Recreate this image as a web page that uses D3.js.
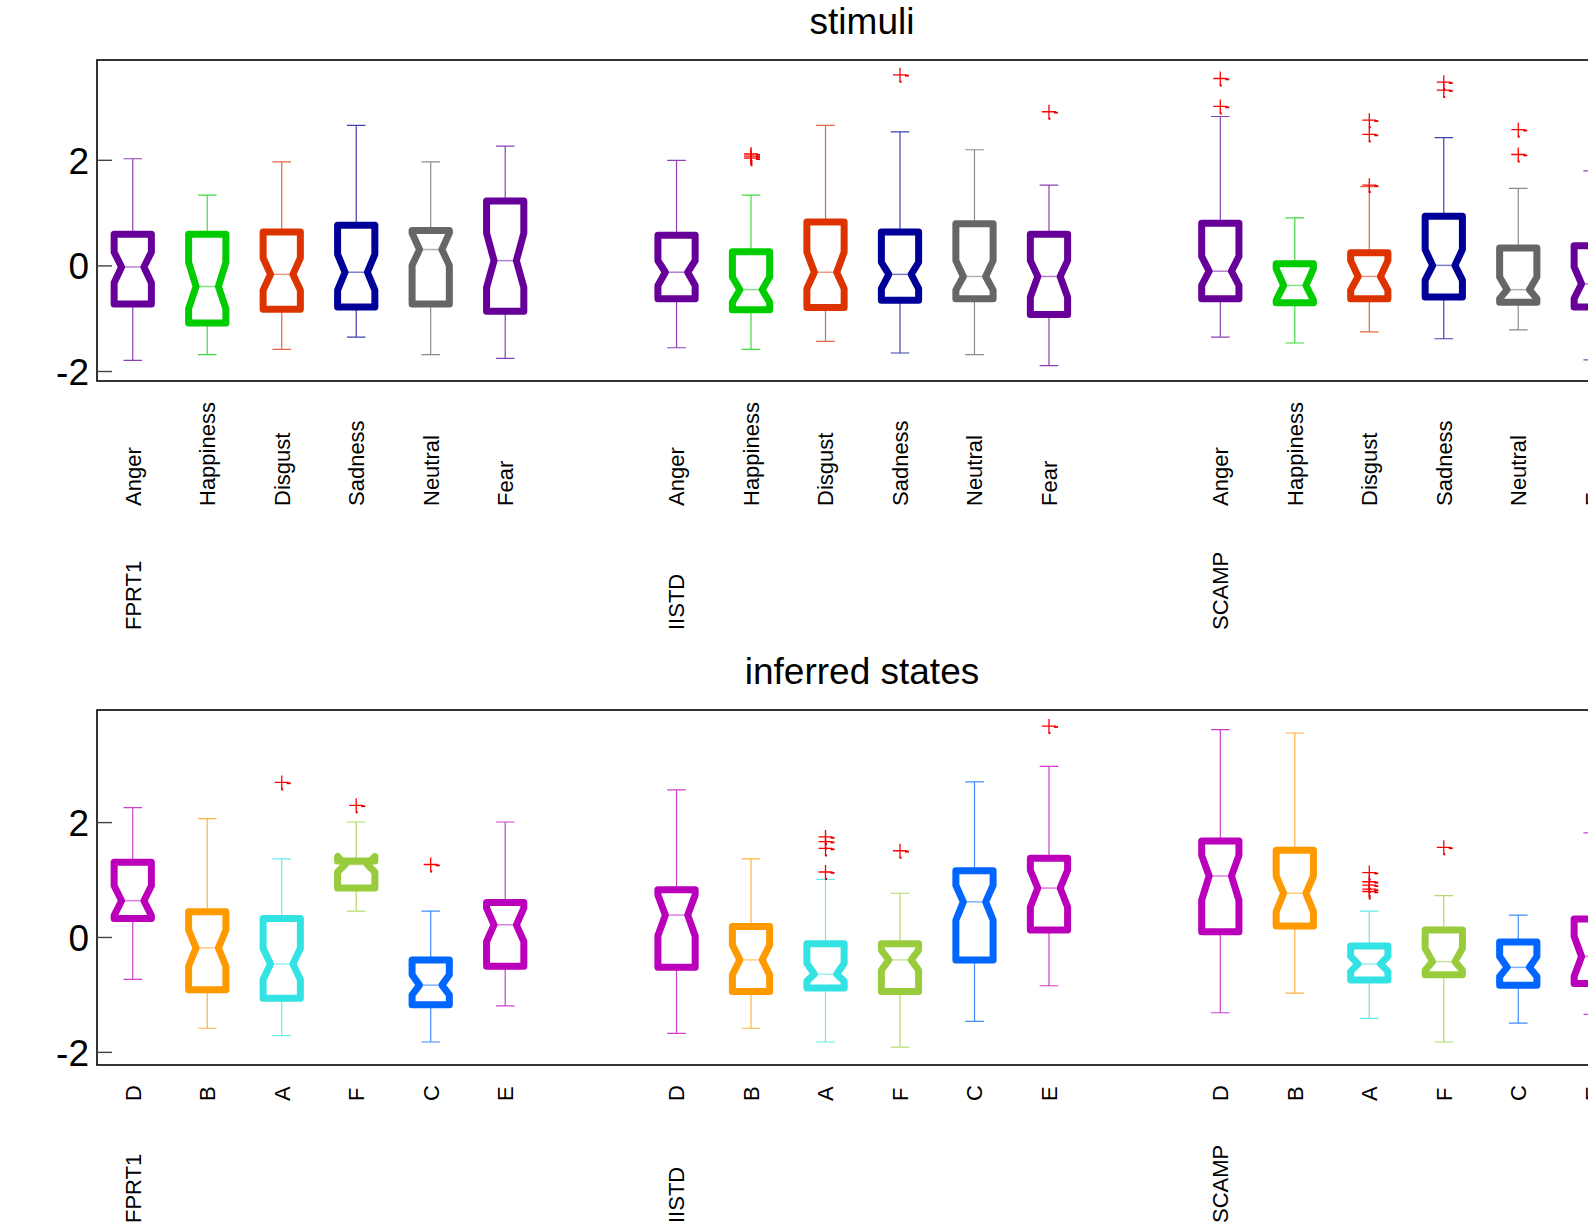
<!DOCTYPE html>
<html>
<head>
<meta charset="utf-8">
<script src="https://cdn.jsdelivr.net/npm/d3@7"></script>
<style>
  body { margin: 0; background: #fff; }
  text { font-family: Arial, "Liberation Sans", sans-serif; fill: #000; }
</style>
</head>
<body>
<div id="chart"></div>
<script>
// categories
var groups = ["FPRT1", "IISTD", "SCAMP"];
var stimCats = ["Anger", "Happiness", "Disgust", "Sadness", "Neutral", "Fear"];
var stateCats = ["D", "B", "A", "F", "C", "E"];
var stimColors = ["#660099", "#00cc00", "#dd3300", "#000099", "#666666", "#660099"];
var stateColors = ["#bb00bb", "#ff9900", "#33e3e3", "#99cc3c", "#0066ff", "#bb00bb"];
var yTicks = [-2, 0, 2];

// stimuli: one row per group, one value per category
var stimLo  = [[-1.79, -1.68, -1.58, -1.35, -1.68, -1.75], [-1.55, -1.58, -1.43, -1.65, -1.68, -1.89], [-1.35, -1.46, -1.25, -1.38, -1.21, -1.78]];
var stimQ1  = [[-0.72, -1.08, -0.82, -0.78, -0.72, -0.86], [-0.62, -0.83, -0.79, -0.65, -0.62, -0.92], [-0.62, -0.70, -0.62, -0.59, -0.69, -0.78]];
var stimNLo = [[-0.32, -0.81, -0.46, -0.46, 0.01, -0.41], [-0.37, -0.69, -0.43, -0.43, -0.46, -0.59], [-0.37, -0.65, -0.46, -0.27, -0.62, -0.62]];
var stimMed = [[-0.02, -0.39, -0.16, -0.12, 0.31, 0.10], [-0.12, -0.45, -0.12, -0.16, -0.20, -0.20], [-0.10, -0.37, -0.20, 0.01, -0.45, -0.34]];
var stimNHi = [[0.26, 0.07, 0.15, 0.22, 0.62, 0.62], [0.10, -0.21, 0.26, 0.07, 0.10, 0.10], [0.18, -0.05, 0.10, 0.31, -0.21, -0.02]];
var stimQ3  = [[0.60, 0.60, 0.64, 0.77, 0.67, 1.23], [0.58, 0.27, 0.83, 0.64, 0.80, 0.60], [0.81, 0.04, 0.25, 0.94, 0.34, 0.38]];
var stimHi  = [[2.03, 1.34, 1.97, 2.66, 1.97, 2.27], [2.00, 1.34, 2.66, 2.54, 2.20, 1.53], [2.83, 0.91, 1.50, 2.43, 1.47, 1.80]];
var stimOut = [[[], [], [], [], [], []],
               [[], [2.04, 2.08, 2.12], [], [3.62], [], [2.92]],
               [[3.02, 3.55], [], [1.53, 2.49, 2.76], [3.33, 3.48], [2.11, 2.58], []]];

// inferred states
var stateLo  = [[-0.73, -1.58, -1.71, 0.46, -1.82, -1.19], [-1.67, -1.58, -1.82, -1.91, -1.46, -0.84], [-1.31, -0.97, -1.41, -1.82, -1.49, -1.34]];
var stateQ1  = [[0.33, -0.91, -1.06, 0.86, -1.17, -0.50], [-0.52, -0.94, -0.88, -0.94, -0.39, 0.13], [0.10, 0.20, -0.74, -0.65, -0.83, -0.80]];
var stateNLo = [[0.38, -0.50, -0.73, 1.14, -1.00, -0.07], [0.03, -0.65, -0.76, -0.57, 0.30, 0.53], [0.65, 0.45, -0.59, -0.57, -0.68, -0.68]];
var stateMed = [[0.64, -0.18, -0.46, 1.27, -0.83, 0.22], [0.39, -0.39, -0.64, -0.39, 0.62, 0.86], [1.07, 0.77, -0.46, -0.42, -0.52, -0.33]];
var stateNHi = [[0.90, 0.13, -0.19, 1.41, -0.65, 0.51], [0.74, -0.13, -0.45, -0.22, 0.91, 1.17], [1.43, 1.07, -0.33, -0.19, -0.33, 0.02]];
var stateQ3  = [[1.31, 0.45, 0.33, 1.33, -0.39, 0.61], [0.83, 0.19, -0.11, -0.11, 1.16, 1.38], [1.68, 1.52, -0.15, 0.13, -0.08, 0.32]];
var stateHi  = [[2.26, 2.07, 1.37, 2.01, 0.46, 2.01], [2.57, 1.37, 1.01, 0.77, 2.71, 2.98], [3.62, 3.56, 0.46, 0.73, 0.39, 1.82]];
var stateOut = [[[], [], [2.70], [2.30], [1.27], []],
                [[], [], [1.14, 1.55, 1.67, 1.75], [1.51], [], [3.68]],
                [[], [], [0.80, 0.84, 0.91, 0.97, 1.13], [1.57], [], []]];

var width = 1588, height = 1228;
var groupStep = 7.3;

var svg = d3.select("#chart").append("svg")
    .attr("width", width)
    .attr("height", height);

var x = d3.scaleLinear().domain([0.52, 21.1]).range([97, 1630]);

function buildBoxes(lo, q1, nlo, med, nhi, q3, hi, out, colors) {
    var boxes = [];
    groups.forEach(function (g, gi) {
        colors.forEach(function (c, i) {
            boxes.push({
                pos: 1 + i + gi * groupStep, color: c,
                lo: lo[gi][i], q1: q1[gi][i], nlo: nlo[gi][i], med: med[gi][i],
                nhi: nhi[gi][i], q3: q3[gi][i], hi: hi[gi][i], out: out[gi][i]
            });
        });
    });
    return boxes;
}

var panels = [
    {title: "stimuli", titleY: 34, top: 60, bottom: 381, domain: [-2.18, 3.9], cats: stimCats, catY: 506, grpY: 630,
     boxes: buildBoxes(stimLo, stimQ1, stimNLo, stimMed, stimNHi, stimQ3, stimHi, stimOut, stimColors)},
    {title: "inferred states", titleY: 684, top: 710, bottom: 1065, domain: [-2.22, 3.96], cats: stateCats, catY: 1101, grpY: 1223,
     boxes: buildBoxes(stateLo, stateQ1, stateNLo, stateMed, stateNHi, stateQ3, stateHi, stateOut, stateColors)}
];

panels.forEach(drawPanel);

function drawPanel(p) {
    var y = d3.scaleLinear().domain(p.domain).range([p.bottom, p.top]);
    var g = svg.append("g");
    var bw = x(1.5) - x(1);       // box width
    var nd = bw * 0.2;            // notch depth
    var cw = bw / 2;              // whisker cap width

    g.append("text")
        .attr("x", 862)
        .attr("y", p.titleY)
        .attr("text-anchor", "middle")
        .style("font-size", "37px")
        .text(p.title);

    // axes box
    g.append("rect")
        .attr("x", x.range()[0])
        .attr("y", p.top)
        .attr("width", x.range()[1] - x.range()[0])
        .attr("height", p.bottom - p.top)
        .attr("fill", "none")
        .attr("stroke", "#000")
        .attr("stroke-width", 1.6);

    // y ticks
    var ticks = g.selectAll(".ytick").data(yTicks).enter().append("g")
        .attr("transform", function (d) { return "translate(0," + y(d) + ")"; });
    ticks.append("line")
        .attr("x1", x.range()[0]).attr("x2", x.range()[0] + 15)
        .attr("stroke", "#444").attr("stroke-width", 1.4);
    ticks.append("text")
        .attr("x", 89)
        .attr("dy", "0.36em")
        .attr("text-anchor", "end")
        .style("font-size", "37px")
        .text(function (d) { return d; });

    var box = g.selectAll(".box").data(p.boxes).enter().append("g").attr("class", "box");

    // whiskers
    box.append("path")
        .attr("fill", "none")
        .attr("stroke", function (d) { return d.color; })
        .attr("stroke-opacity", 0.75)
        .attr("stroke-width", 1.2)
        .attr("d", function (d) {
            var cx = x(d.pos);
            return "M" + cx + "," + y(d.q3) + "V" + y(d.hi) +
                "M" + (cx - cw / 2) + "," + y(d.hi) + "H" + (cx + cw / 2) +
                "M" + cx + "," + y(d.q1) + "V" + y(d.lo) +
                "M" + (cx - cw / 2) + "," + y(d.lo) + "H" + (cx + cw / 2);
        });

    // notched box
    var line = d3.line();
    box.append("path")
        .attr("fill", "none")
        .attr("stroke", function (d) { return d.color; })
        .attr("stroke-width", 7)
        .attr("stroke-linejoin", "round")
        .attr("d", function (d) {
            var l = x(d.pos) - bw / 2, r = x(d.pos) + bw / 2;
            return line([
                [l, y(d.q1)], [l, y(d.nlo)], [l + nd, y(d.med)], [l, y(d.nhi)], [l, y(d.q3)],
                [r, y(d.q3)], [r, y(d.nhi)], [r - nd, y(d.med)], [r, y(d.nlo)], [r, y(d.q1)]
            ]) + "Z";
        });

    // median
    box.append("line")
        .attr("x1", function (d) { return x(d.pos) - bw / 2 + nd; })
        .attr("x2", function (d) { return x(d.pos) + bw / 2 - nd; })
        .attr("y1", function (d) { return y(d.med); })
        .attr("y2", function (d) { return y(d.med); })
        .attr("stroke", function (d) { return d.color; })
        .attr("stroke-opacity", 0.5)
        .attr("stroke-width", 1.5);

    // outliers
    box.selectAll(".out")
        .data(function (d) { return d.out.map(function (v) { return {pos: d.pos, v: v}; }); })
        .enter().append("g")
        .attr("transform", function (d) { return "translate(" + x(d.pos) + "," + y(d.v) + ")"; })
        .each(function () {
            var m = d3.select(this);
            m.append("path")
                .attr("d", "M-7,0H7M0,-7V7")
                .attr("stroke", "#ff0000")
                .attr("stroke-width", 1.3)
                .attr("fill", "none");
            m.append("rect").attr("x", 5).attr("y", 0).attr("width", 4).attr("height", 1.8).attr("fill", "#e00000");
            m.append("rect").attr("x", -0.5).attr("y", 6).attr("width", 2).attr("height", 2).attr("fill", "#e00000");
        });

    // category labels
    p.boxes.forEach(function (d, i) {
        var cat = p.cats[i % p.cats.length];
        g.append("text")
            .attr("transform", "translate(" + x(d.pos) + "," + p.catY + ") rotate(-90)")
            .attr("dy", "0.36em")
            .style("font-size", "22px")
            .text(cat);
    });

    // group labels
    groups.forEach(function (name, gi) {
        g.append("text")
            .attr("transform", "translate(" + x(1 + gi * groupStep) + "," + p.grpY + ") rotate(-90)")
            .attr("dy", "0.36em")
            .style("font-size", "22px")
            .text(name);
    });
}
</script>
</body>
</html>
